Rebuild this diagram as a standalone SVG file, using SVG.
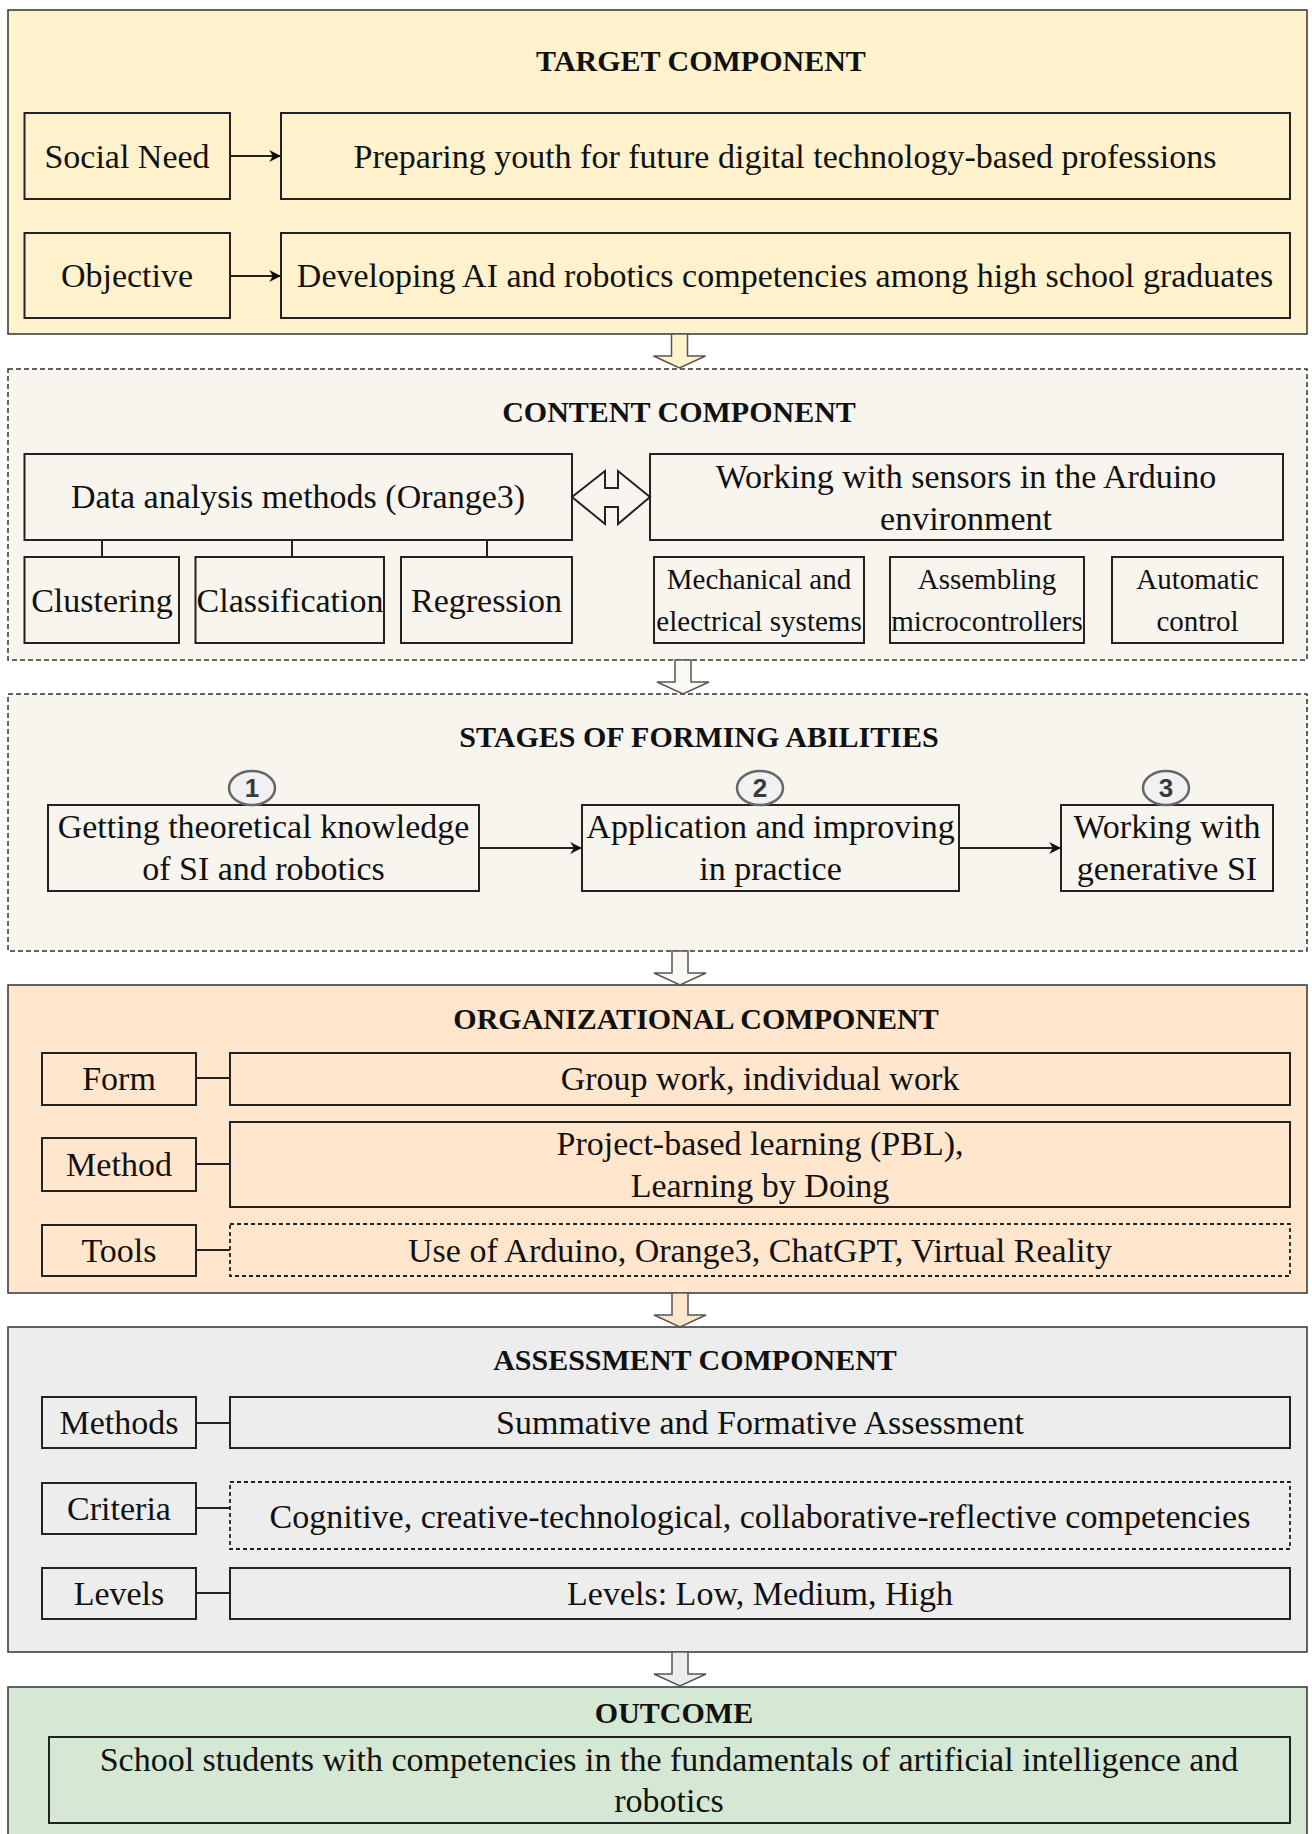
<svg xmlns="http://www.w3.org/2000/svg" width="1312" height="1834" viewBox="0 0 1312 1834">
  <style>
    text { font-family: "Liberation Serif", "Times New Roman", serif; fill: #111; text-anchor: middle; }
    .title { font-size: 30px; font-weight: bold; }
    .body { font-size: 34px; }
    .small { font-size: 29px; }
    .num { font-family: "Liberation Sans", Arial, sans-serif; font-size: 26px; font-weight: bold; fill: #3a3a3a; }
    .panel { stroke: #333; stroke-width: 1.5; }
    .panel-dash { stroke: #333; stroke-width: 1.5; stroke-dasharray: 5 3; }
    .box { fill: none; stroke: #222; stroke-width: 2; }
    .box-dash { fill: none; stroke: #222; stroke-width: 1.8; stroke-dasharray: 4 3; }
    .link { fill: none; stroke: #222; stroke-width: 2; }
    .block { stroke: #555; stroke-width: 1.5; }
    .badge { fill: #f1f1f1; stroke: #666; stroke-width: 2.5; }
  </style>
  <defs>
    <marker id="head" viewBox="0 0 10 10" refX="9" refY="5" markerWidth="6" markerHeight="6" markerUnits="strokeWidth" orient="auto">
      <path d="M0,0 L10,5 L0,10 L3,5 Z" fill="#111"/>
    </marker>
    <path id="down" d="M -8 0 V 22 H -26 L 0 34 L 26 22 H 8 V 0 Z"/>
  </defs>

  <!-- TARGET COMPONENT -->
  <g id="target">
    <rect class="panel" x="8" y="10" width="1299" height="324" fill="#fff2cc"/>
    <text class="title" x="701" y="71">TARGET COMPONENT</text>
    <g id="social-need">
      <rect class="box" x="24.5" y="113" width="205.5" height="86"/>
      <text class="body" x="127" y="168">Social Need</text>
    </g>
    <g id="preparing">
      <rect class="box" x="281" y="113" width="1009" height="86"/>
      <text class="body" x="785" y="168">Preparing youth for future digital technology-based professions</text>
    </g>
    <g id="objective">
      <rect class="box" x="24.5" y="233" width="205.5" height="85"/>
      <text class="body" x="127" y="287">Objective</text>
    </g>
    <g id="developing">
      <rect class="box" x="281" y="233" width="1009" height="85"/>
      <text class="body" x="785" y="287">Developing AI and robotics competencies among high school graduates</text>
    </g>
  </g>

  <!-- CONTENT COMPONENT -->
  <g id="content">
    <rect class="panel-dash" x="8" y="369" width="1299" height="291" fill="#f7f5ee"/>
    <text class="title" x="679" y="422">CONTENT COMPONENT</text>
    <g id="data-analysis">
      <rect class="box" x="24.5" y="454" width="547.5" height="86"/>
      <text class="body" x="298" y="508">Data analysis methods (Orange3)</text>
    </g>
    <g id="arduino">
      <rect class="box" x="650" y="454" width="633" height="86"/>
      <text class="body" x="966" y="488">Working with sensors in the Arduino</text>
      <text class="body" x="966" y="530">environment</text>
    </g>
    <g id="clustering">
      <rect class="box" x="24.5" y="557" width="154.5" height="86"/>
      <text class="body" x="102" y="612">Clustering</text>
    </g>
    <g id="classification">
      <rect class="box" x="195.5" y="557" width="188.5" height="86"/>
      <text class="body" x="290" y="612">Classification</text>
    </g>
    <g id="regression">
      <rect class="box" x="401" y="557" width="171" height="86"/>
      <text class="body" x="486.5" y="612">Regression</text>
    </g>
    <g id="mechanical">
      <rect class="box" x="654" y="557" width="210" height="86"/>
      <text class="small" x="759" y="589">Mechanical and</text>
      <text class="small" x="759" y="631">electrical systems</text>
    </g>
    <g id="assembling">
      <rect class="box" x="890" y="557" width="194" height="86"/>
      <text class="small" x="987" y="589">Assembling</text>
      <text class="small" x="987" y="631">microcontrollers</text>
    </g>
    <g id="automatic">
      <rect class="box" x="1112" y="557" width="171" height="86"/>
      <text class="small" x="1197.5" y="589">Automatic</text>
      <text class="small" x="1197.5" y="631">control</text>
    </g>
  </g>

  <!-- STAGES OF FORMING ABILITIES -->
  <g id="stages">
    <rect class="panel-dash" x="8" y="694" width="1299" height="257" fill="#f7f5ee"/>
    <text class="title" x="699" y="747">STAGES OF FORMING ABILITIES</text>
    <g id="stage-1">
      <rect class="box" x="48" y="805" width="431" height="86"/>
      <text class="body" x="263.5" y="838">Getting theoretical knowledge</text>
      <text class="body" x="263.5" y="880">of SI and robotics</text>
      <ellipse class="badge" cx="252" cy="788" rx="23" ry="17"/>
      <text class="num" x="252" y="797">1</text>
    </g>
    <g id="stage-2">
      <rect class="box" x="582" y="805" width="377" height="86"/>
      <text class="body" x="770.5" y="838">Application and improving</text>
      <text class="body" x="770.5" y="880">in practice</text>
      <ellipse class="badge" cx="760" cy="788" rx="23" ry="17"/>
      <text class="num" x="760" y="797">2</text>
    </g>
    <g id="stage-3">
      <rect class="box" x="1061" y="805" width="212" height="86"/>
      <text class="body" x="1167" y="838">Working with</text>
      <text class="body" x="1167" y="880">generative SI</text>
      <ellipse class="badge" cx="1166" cy="788" rx="23" ry="17"/>
      <text class="num" x="1166" y="797">3</text>
    </g>
  </g>

  <!-- ORGANIZATIONAL COMPONENT -->
  <g id="organizational">
    <rect class="panel" x="8" y="985" width="1299" height="308" fill="#ffe6cc"/>
    <text class="title" x="696" y="1029">ORGANIZATIONAL COMPONENT</text>
    <g id="form">
      <rect class="box" x="42" y="1053" width="154" height="52"/>
      <text class="body" x="119" y="1090">Form</text>
    </g>
    <g id="group-work">
      <rect class="box" x="230" y="1053" width="1060" height="52"/>
      <text class="body" x="760" y="1090">Group work, individual work</text>
    </g>
    <g id="method">
      <rect class="box" x="42" y="1138" width="154" height="53"/>
      <text class="body" x="119" y="1176">Method</text>
    </g>
    <g id="pbl">
      <rect class="box" x="230" y="1122" width="1060" height="85"/>
      <text class="body" x="760" y="1155">Project-based learning (PBL),</text>
      <text class="body" x="760" y="1197">Learning by Doing</text>
    </g>
    <g id="tools">
      <rect class="box" x="42" y="1225" width="154" height="51"/>
      <text class="body" x="119" y="1262">Tools</text>
    </g>
    <g id="tool-list">
      <rect class="box-dash" x="230" y="1224" width="1060" height="52"/>
      <text class="body" x="760" y="1262">Use of Arduino, Orange3, ChatGPT, Virtual Reality</text>
    </g>
  </g>

  <!-- ASSESSMENT COMPONENT -->
  <g id="assessment">
    <rect class="panel" x="8" y="1327" width="1299" height="325" fill="#ededed"/>
    <text class="title" x="695" y="1370">ASSESSMENT COMPONENT</text>
    <g id="methods">
      <rect class="box" x="42" y="1397" width="154" height="51"/>
      <text class="body" x="119" y="1434">Methods</text>
    </g>
    <g id="summative">
      <rect class="box" x="230" y="1397" width="1060" height="51"/>
      <text class="body" x="760" y="1434">Summative and Formative Assessment</text>
    </g>
    <g id="criteria">
      <rect class="box" x="42" y="1483" width="154" height="51"/>
      <text class="body" x="119" y="1520">Criteria</text>
    </g>
    <g id="competencies">
      <rect class="box-dash" x="230" y="1482" width="1060" height="67"/>
      <text class="body" x="760" y="1528">Cognitive, creative-technological, collaborative-reflective competencies</text>
    </g>
    <g id="levels">
      <rect class="box" x="42" y="1568" width="154" height="51"/>
      <text class="body" x="119" y="1605">Levels</text>
    </g>
    <g id="level-list">
      <rect class="box" x="230" y="1568" width="1060" height="51"/>
      <text class="body" x="760" y="1605">Levels: Low, Medium, High</text>
    </g>
  </g>

  <!-- OUTCOME -->
  <g id="outcome">
    <rect class="panel" x="8" y="1687" width="1299" height="160" fill="#d5e8d4"/>
    <text class="title" x="674" y="1723">OUTCOME</text>
    <g id="outcome-text">
      <rect class="box" x="49" y="1737" width="1241" height="86"/>
      <text class="body" x="669" y="1771">School students with competencies in the fundamentals of artificial intelligence and</text>
      <text class="body" x="669" y="1812">robotics</text>
    </g>
  </g>

  <!-- connectors -->
  <g id="connectors">
    <line class="link" x1="230" y1="156" x2="280" y2="156" marker-end="url(#head)"/>
    <line class="link" x1="230" y1="276" x2="280" y2="276" marker-end="url(#head)"/>
    <path class="link" d="M572 497 L605 471 V488 H618 V471 L650 497 L618 524 V507 H605 V524 Z" fill="#f7f5ee" stroke-width="1.8"/>
    <line class="link" x1="102" y1="540" x2="102" y2="557" stroke-width="1.5"/>
    <line class="link" x1="292" y1="540" x2="292" y2="557" stroke-width="1.5"/>
    <line class="link" x1="487" y1="540" x2="487" y2="557" stroke-width="1.5"/>
    <line class="link" x1="479" y1="848" x2="581" y2="848" marker-end="url(#head)"/>
    <line class="link" x1="959" y1="848" x2="1060" y2="848" marker-end="url(#head)"/>
    <line class="link" x1="196" y1="1078" x2="230" y2="1078"/>
    <line class="link" x1="196" y1="1164" x2="230" y2="1164"/>
    <line class="link" x1="196" y1="1250" x2="230" y2="1250"/>
    <line class="link" x1="196" y1="1423" x2="230" y2="1423"/>
    <line class="link" x1="196" y1="1508" x2="230" y2="1508"/>
    <line class="link" x1="196" y1="1593" x2="230" y2="1593"/>
    <use href="#down" class="block" fill="#fff2cc" transform="translate(679.5 334)"/>
    <use href="#down" class="block" fill="#f9f8f2" transform="translate(683 660)"/>
    <use href="#down" class="block" fill="#f9f8f2" transform="translate(680 951)"/>
    <use href="#down" class="block" fill="#ffe6cc" transform="translate(680 1293)"/>
    <use href="#down" class="block" fill="#eeeeee" transform="translate(680 1652)"/>
  </g>
</svg>
